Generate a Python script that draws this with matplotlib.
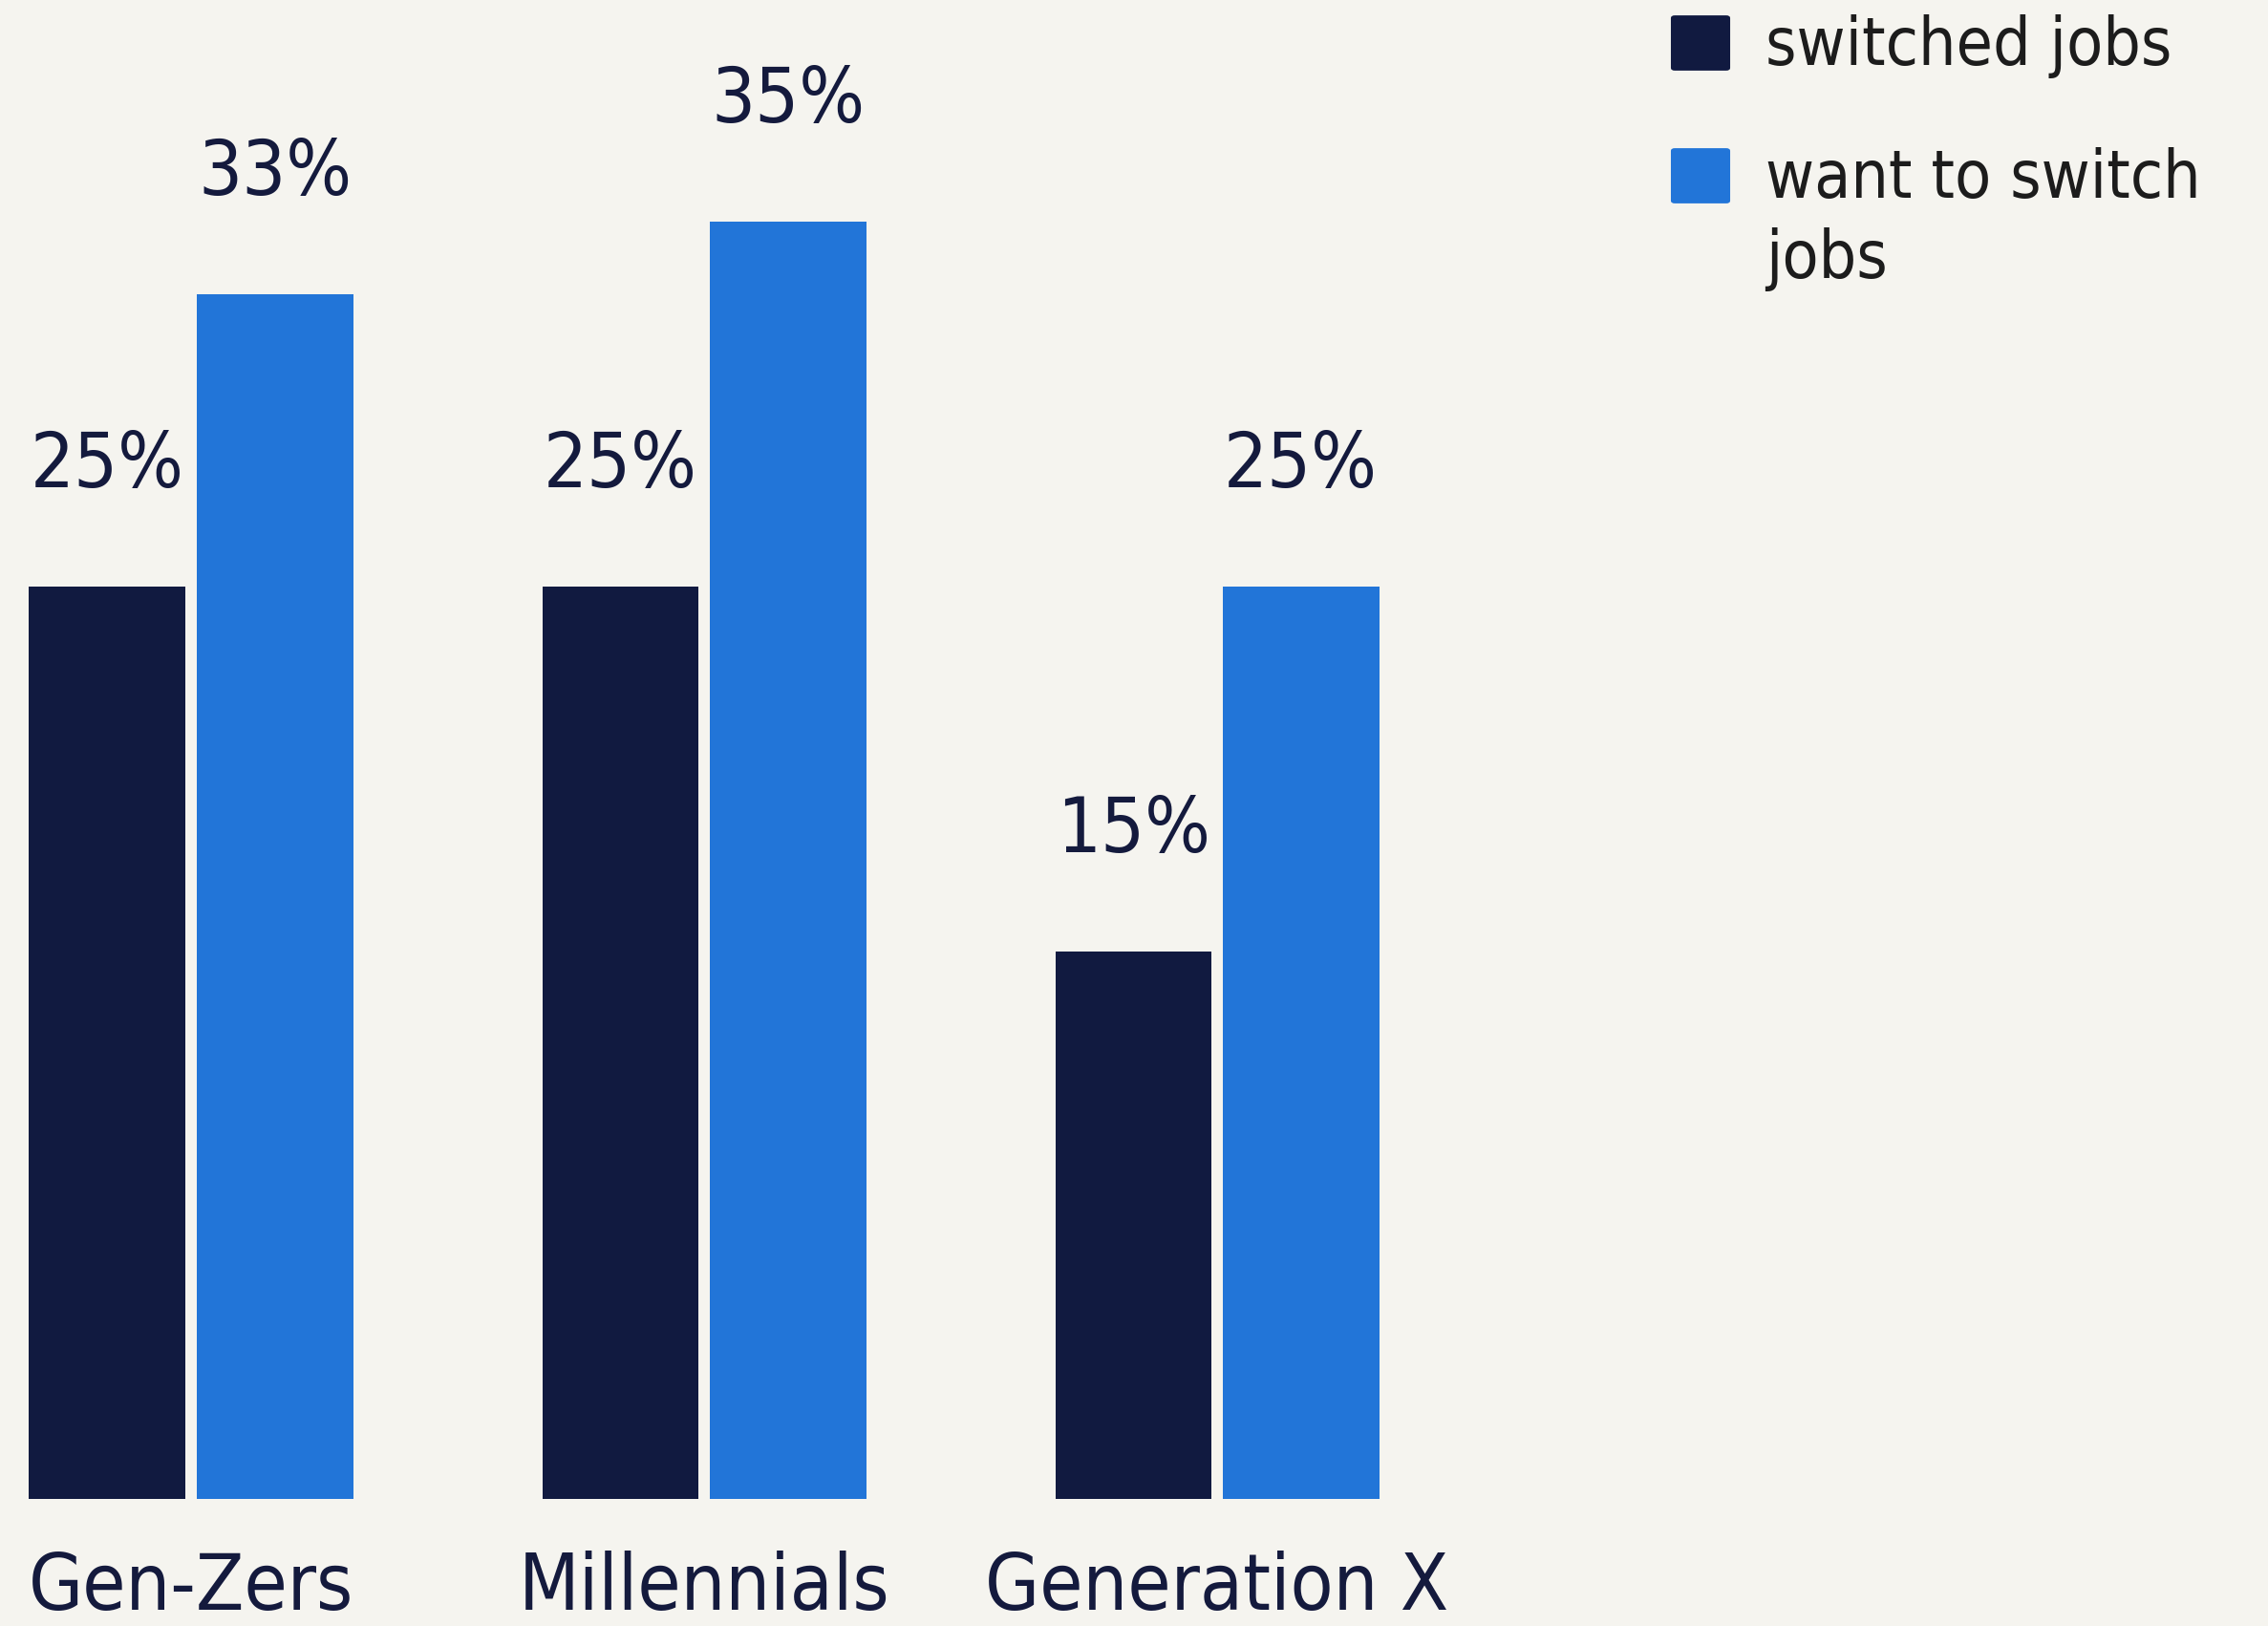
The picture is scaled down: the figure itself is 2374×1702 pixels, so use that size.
import numpy as np
import matplotlib
matplotlib.use("Agg")
import matplotlib.pyplot as plt
from matplotlib.patches import FancyBboxPatch

groups = ["Gen-Zers", "Millennials", "Generation X"]
series = ["switched jobs", "want to switch\njobs"]
switched = [25, 25, 15]
want_switch = [33, 35, 25]

NAVY = "#111a40"
BLUE = "#2275d8"
BG = "#f5f4ef"
TXT = "#141a3d"

plt.rcParams["font.family"] = ["DejaVu Sans"]

W, H = 2374, 1702
fig = plt.figure(figsize=(W / 100, H / 100), dpi=100, facecolor=BG)
ax = fig.add_axes([0, 0, 1, 1])
ax.set_facecolor(BG)

# pixel layout: group centres 537 px apart, baseline 133 px above the bottom
px_unit = 537.0
px_pct = 38.2
ax.set_xlim(-200 / px_unit, (W - 200) / px_unit)
ax.set_ylim(-133 / px_pct, (H - 133) / px_pct)
ax.axis("off")

x = np.arange(len(groups))
width = 163.5 / px_unit
off = (163.5 + 12) / 2 / px_unit

for vals, col, sgn in [(switched, NAVY, -1), (want_switch, BLUE, 1)]:
    bars = ax.bar(x + sgn * off, vals, width, color=col, linewidth=0)
    for b, v in zip(bars, vals):
        ax.annotate(f"{v}%", (b.get_x() + b.get_width() / 2, v),
                    xytext=(0, 75), textcoords="offset points",
                    ha="center", va="baseline", fontsize=58,
                    fontstretch="condensed", color=TXT)

for xi, g in zip(x, groups):
    ax.text(xi, -133 / px_pct, g, ha="center", va="bottom",
            fontsize=59, fontstretch="condensed", color=TXT)

# legend drawn by hand in the top right corner
leg_cols = [NAVY, BLUE]
leg_y = [H - 45, H - 184]
for name, col, yc in zip(series, leg_cols, leg_y):
    fig.patches.append(FancyBboxPatch(((1749 + 4) / W, (yc - 30 + 4) / H),
                                      (62 - 8) / W, (60 - 8) / H,
                                      boxstyle="round,pad=0.0017",
                                      transform=fig.transFigure,
                                      facecolor=col, linewidth=0))
    ax.text(1848 / W, (yc + 30) / H, name, transform=fig.transFigure,
            ha="left", va="top", fontsize=50, fontstretch="condensed",
            color="#1c1c1c", linespacing=1.32)

fig.savefig("out.png", dpi=100, facecolor=BG)
